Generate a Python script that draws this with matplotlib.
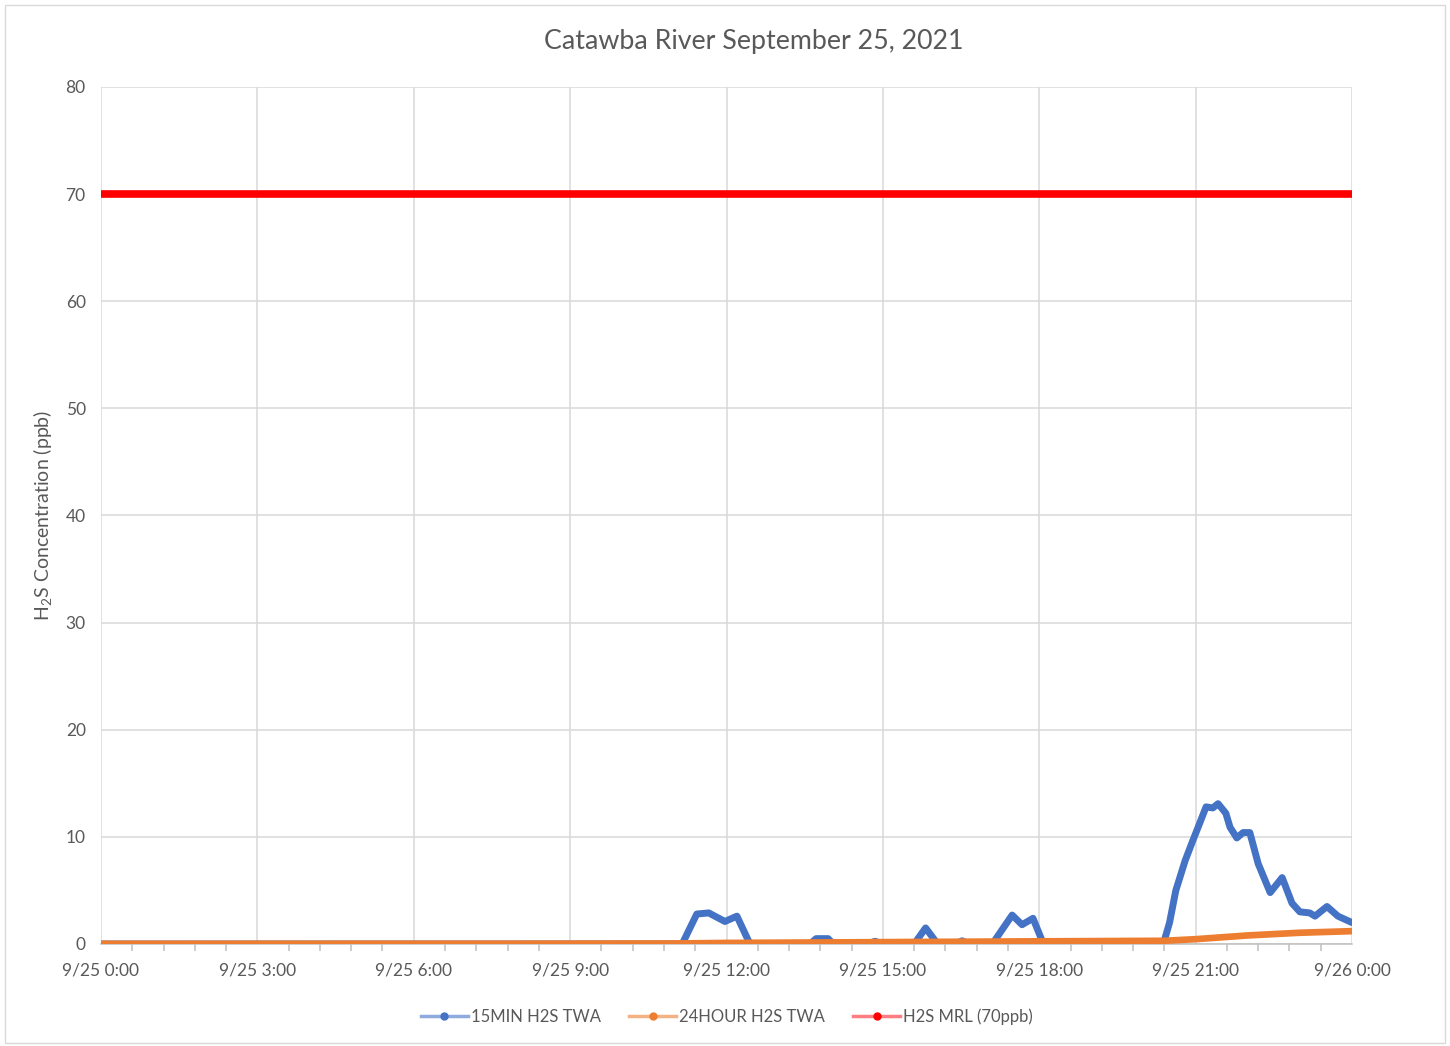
import datetime as dt

import matplotlib.dates as mdates
import matplotlib.pyplot as plt
from matplotlib.lines import Line2D
from matplotlib.patches import Rectangle

plt.rcParams["font.family"] = ["Lato", "DejaVu Sans"]
plt.rcParams["mathtext.fontset"] = "custom"
plt.rcParams["mathtext.rm"] = "Lato"
plt.rcParams["mathtext.it"] = "Lato:italic"

TITLE = "Catawba River September 25, 2021"
YLABEL = "H$_2$S Concentration (ppb)"
SERIES_NAMES = ["15MIN H2S TWA", "24HOUR H2S TWA", "H2S MRL (70ppb)"]

# hours after 9/25 0:00 and concentrations (ppb)
min15_hours = [0.0, 11.15, 11.43, 11.66, 11.97, 12.2, 12.45, 13.6, 13.72, 13.95,
               14.05, 14.7, 14.85, 15.0, 15.6, 15.82, 16.05, 16.4, 16.52, 16.65,
               17.1, 17.48, 17.67, 17.88, 18.08, 20.38, 20.5, 20.62, 20.8, 20.95,
               21.08, 21.2, 21.33, 21.43, 21.58, 21.66, 21.79, 21.91, 22.04, 22.2,
               22.43, 22.66, 22.85, 23.0, 23.19, 23.29, 23.52, 23.73, 24.0]
min15_vals = [0.0, 0.0, 2.8, 2.9, 2.1, 2.6, 0.0, 0.0, 0.5, 0.5,
              0.0, 0.0, 0.25, 0.0, 0.0, 1.5, 0.0, 0.0, 0.3, 0.0,
              0.0, 2.7, 1.8, 2.4, 0.0, 0.0, 2.0, 5.0, 7.8, 9.7,
              11.3, 12.8, 12.7, 13.1, 12.2, 10.9, 9.9, 10.4, 10.4, 7.5,
              4.8, 6.2, 3.8, 3.0, 2.9, 2.6, 3.5, 2.6, 2.0]

hr24_hours = [0.0, 8.0, 11.0, 12.0, 14.0, 16.0, 18.0, 20.4, 21.0, 22.0, 23.0, 24.0]
hr24_vals = [0.02, 0.03, 0.05, 0.1, 0.15, 0.2, 0.25, 0.3, 0.45, 0.8, 1.05, 1.2]

mrl_hours = [0.0, 24.0]
mrl_vals = [70.0, 70.0]

start = dt.datetime(2021, 9, 25)


def to_dates(hours):
    return [start + dt.timedelta(hours=h) for h in hours]


BLUE = "#4472C4"
ORANGE = "#ED7D31"
RED = "#FF0000"
TXT = "#595959"
GRID = "#D9D9D9"

fig = plt.figure(figsize=(14.5, 10.46), dpi=100)
ax = fig.add_axes([101 / 1450, 1 - 944 / 1046, (1352 - 101) / 1450, (944 - 87) / 1046])

ax.plot(to_dates(mrl_hours), mrl_vals, color=RED, lw=5.5, solid_capstyle="round", zorder=3)
ax.plot(to_dates(min15_hours), min15_vals, color=BLUE, lw=5,
        solid_joinstyle="round", solid_capstyle="round", zorder=4)
ax.plot(to_dates(hr24_hours), hr24_vals, color=ORANGE, lw=4.8, solid_capstyle="round", zorder=5)

ax.set_xlim(start, start + dt.timedelta(hours=24))
ax.set_ylim(0, 80)
ax.set_yticks(range(0, 81, 10))
minor = [start + dt.timedelta(minutes=36 * i) for i in range(41)]
ax.set_xticks(minor, minor=True)
ax.set_xticks(to_dates(range(0, 25, 3)))
ax.xaxis.set_major_formatter(plt.FuncFormatter(
    lambda v, p: (lambda d: f"{d.month}/{d.day} {d.hour}:{d.minute:02d}")(mdates.num2date(v))))

ax.grid(True, which="major", color=GRID, lw=1.1)
ax.set_axisbelow(True)
for s in ["top", "left", "right"]:
    ax.spines[s].set_visible(False)
ax.spines["bottom"].set_color("#BFBFBF")
ax.spines["bottom"].set_linewidth(1.1)
ax.tick_params(axis="y", length=0, labelsize=12.5, labelcolor=TXT, pad=11)
ax.tick_params(axis="x", which="major", length=0, labelsize=12.5, labelcolor=TXT, pad=13)
ax.tick_params(axis="x", which="minor", length=5, color="#BFBFBF", width=1.1)

ax.set_ylabel(YLABEL, fontsize=14, color=TXT, labelpad=8)
fig.text(754 / 1450, 1 - 42 / 1046, TITLE, fontsize=19.3, color=TXT, ha="center", va="center")

handles = [
    Line2D([], [], color="#8FAADC", lw=2.5, marker="o", ms=5, mfc=BLUE, mec=BLUE),
    Line2D([], [], color="#F4B183", lw=2.5, marker="o", ms=5, mfc=ORANGE, mec=ORANGE),
    Line2D([], [], color="#FF7C80", lw=2.5, marker="o", ms=5, mfc=RED, mec=RED),
]
fig.legend(handles, SERIES_NAMES, loc="center", bbox_to_anchor=(727 / 1450, 1 - 1017 / 1046),
           ncol=3, frameon=False, fontsize=12, labelcolor=TXT, handlelength=2.8,
           handletextpad=0.2, columnspacing=1.7)

fig.patches.append(Rectangle((5 / 1450, 3 / 1046), 1440 / 1450, 1038 / 1046,
                             transform=fig.transFigure, fill=False, ec="#D9D9D9", lw=1))

fig.savefig("out.png", dpi=100)
